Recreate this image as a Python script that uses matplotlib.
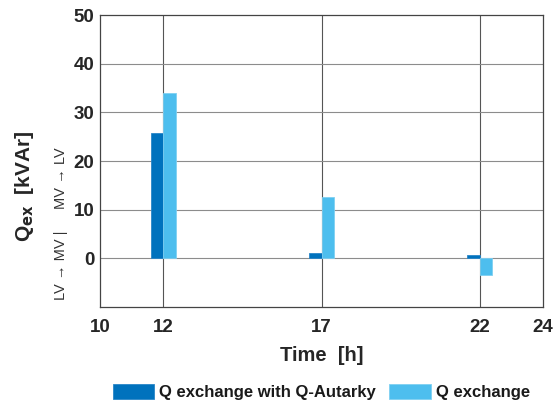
import matplotlib
matplotlib.use("Agg")
import matplotlib.pyplot as plt
import numpy as np

plt.rcParams['font.family'] = ['Liberation Sans', 'DejaVu Sans']

hours = [12, 17, 22]
q_autarky = [25.8, 1.1, 0.75]
q_exchange = [34.0, 12.7, -3.5]
x_ticks = [10, 12, 17, 22, 24]
y_ticks = [0, 10, 20, 30, 40, 50]

dark = '#0072BD'
light = '#4DBEEE'
w = 0.4

fig = plt.figure(figsize=(5.56, 4.05), dpi=100)
ax = fig.add_axes([100/556, 1 - 307/405, 443/556, 292/405])

h = np.array(hours, dtype=float)
ax.bar(h - w/2, q_autarky, width=w, color=dark, edgecolor='#2a86c8', linewidth=0.6,
       label='Q exchange with Q-Autarky', zorder=3)
ax.bar(h + w/2, q_exchange, width=w, color=light, edgecolor='#7fd0f2', linewidth=0.6,
       label='Q exchange', zorder=3)

ax.set_xlim(10, 24)
ax.set_ylim(-10, 50)
ax.set_xticks(x_ticks)
ax.set_yticks(y_ticks)
for hx in hours:
    ax.axvline(hx, color='#555555', lw=0.8, zorder=1)
for yv in y_ticks[:-1]:
    ax.axhline(yv, color='#8c8c8c', lw=0.8, zorder=1)

ax.tick_params(axis='y', length=0, labelsize=13.5, pad=4, colors='#262626')
ax.tick_params(axis='x', length=0, labelsize=13.5, pad=9, colors='#262626')
for lbl in ax.get_xticklabels() + ax.get_yticklabels():
    lbl.set_fontweight('bold')
for s in ax.spines.values():
    s.set_color('#444444')
    s.set_linewidth(0.9)

ax.set_xlabel('Time  [h]', fontsize=14.5, fontweight='bold', color='#262626', labelpad=7)
fig.text(25/556, 1 - 186/405, r'Q$_{\mathbf{ex}}$  [kVAr]', rotation=90, fontsize=15,
         fontweight='bold', color='#262626', ha='center', va='center')
fig.text(61/556, 1 - 265/405, 'LV \u2192 MV |', rotation=90, fontsize=10.5,
         color='#333333', ha='center', va='center')
fig.text(61/556, 1 - 178/405, 'MV \u2192 LV', rotation=90, fontsize=10.5,
         color='#333333', ha='center', va='center')

leg = fig.legend(loc='center', bbox_to_anchor=(0.578, 1 - 392/405), ncol=2, frameon=False,
                 prop={'weight': 'bold', 'size': 12}, handlelength=2.5, handleheight=1.0,
                 columnspacing=0.8, handletextpad=0.3)
for t in leg.get_texts():
    t.set_color('#1a1a1a')

fig.savefig('out.png', dpi=100)
